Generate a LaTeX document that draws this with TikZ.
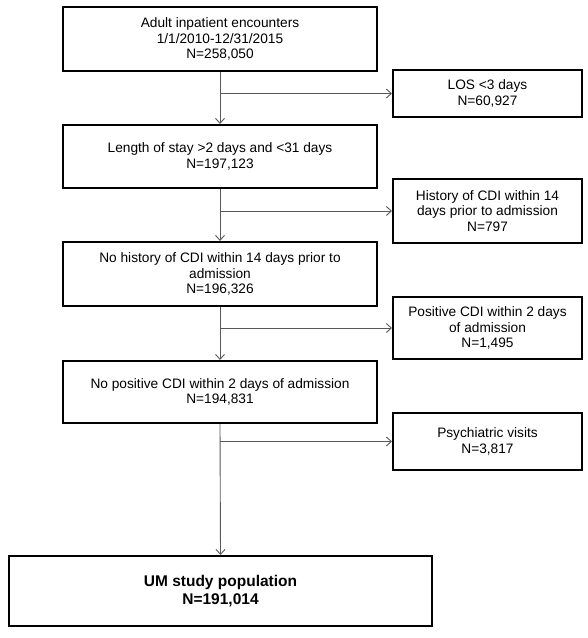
\documentclass[tikz,border=0pt]{standalone}
\usepackage{fontspec}
\setmainfont{Liberation Sans}
\usetikzlibrary{arrows.meta}
\begin{document}
\begin{tikzpicture}[x=1pt,y=-1pt,
  mainbox/.style={draw=black,line width=2pt,align=center,inner sep=0pt,
    minimum width=314pt,font=\fontsize{13.7}{15.5}\selectfont},
  sidebox/.style={draw=black,line width=2pt,align=center,inner sep=0pt,
    minimum width=189pt,font=\fontsize{13.7}{15.5}\selectfont},
  finalbox/.style={draw=black,line width=2pt,align=center,inner sep=0pt,
    minimum width=423pt,minimum height=70pt,font=\fontsize{15.5}{17.3}\selectfont\bfseries},
  flow/.style={draw=black!65,line width=0.9pt,-{Straight Barb[length=5pt,width=9pt]}}]
\useasboundingbox (0,0) rectangle (588,638);
\fill[white] (0,0) rectangle (588,638);
\node[mainbox,minimum height=64pt] (b1) at (220,39) {Adult inpatient encounters\\1/1/2010-12/31/2015\\N=258,050};
\node[mainbox,minimum height=63pt] (b2) at (220,156.5) {Length of stay >2 days and <31 days\\N=197,123};
\node[mainbox,minimum height=64pt] (b3) at (220,274) {No history of CDI within 14 days prior to\\admission\\N=196,326};
\node[mainbox,minimum height=62pt] (b4) at (220,392) {No positive CDI within 2 days of admission\\N=194,831};
\node[finalbox] (b5) at (220.5,591) {UM study population\\N=191,014};
\node[sidebox,minimum height=47pt] (s1) at (487.5,93.5) {LOS <3 days\\N=60,927};
\node[sidebox,minimum height=64pt] (s2) at (487.5,211) {History of CDI within 14\\days prior to admission\\N=797};
\node[sidebox,minimum height=62pt] (s3) at (487.5,328) {Positive CDI within 2 days\\of admission\\N=1,495};
\node[sidebox,minimum height=57pt] (s4) at (487.5,441.5) {Psychiatric visits\\N=3,817};
\coordinate (j1) at (b1.south |- s1.west);
\coordinate (j2) at (b2.south |- s2.west);
\coordinate (j3) at (b3.south |- s3.west);
\coordinate (j4) at (b4.south |- s4.west);
\draw[flow] (b1.south) -- (b2.north);
\draw[flow] (b2.south) -- (b3.north);
\draw[flow] (b3.south) -- (b4.north);
\draw[flow] (b4.south) -- (b5.north);
\draw[flow] (j1) -- (s1.west);
\draw[flow] (j2) -- (s2.west);
\draw[flow] (j3) -- (s3.west);
\draw[flow] (j4) -- (s4.west);
\end{tikzpicture}
\end{document}
